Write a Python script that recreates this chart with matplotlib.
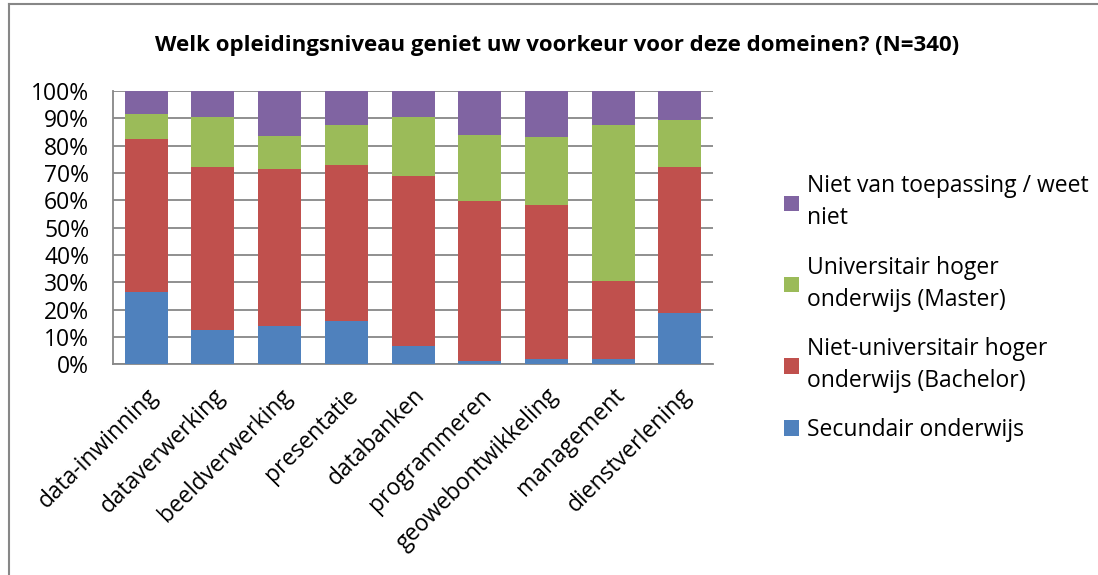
import matplotlib.pyplot as plt
import numpy as np
from matplotlib.lines import Line2D
from matplotlib.ticker import PercentFormatter

domeinen = ['data-inwinning', 'dataverwerking', 'beeldverwerking', 'presentatie',
            'databanken', 'programmeren', 'geowebontwikkeling', 'management',
            'dienstverlening']
secundair = [26.5, 12.7, 14.0, 15.9, 6.6, 1.3, 1.8, 2.0, 18.8]
bachelor = [55.8, 59.6, 57.5, 57.0, 62.4, 58.3, 56.4, 28.6, 53.5]
master = [9.3, 18.3, 12.2, 14.8, 21.4, 24.3, 25.0, 57.1, 17.1]
nvt = [8.4, 9.4, 16.3, 12.3, 9.6, 16.1, 16.8, 12.3, 10.6]

reeksen = [
    ('Secundair onderwijs', secundair, '#4F81BD'),
    ('Niet-universitair hoger\nonderwijs (Bachelor)', bachelor, '#C0504D'),
    ('Universitair hoger\nonderwijs (Master)', master, '#9BBB59'),
    ('Niet van toepassing / weet\nniet', nvt, '#8064A2'),
]

plt.rcParams['font.family'] = ['Open Sans', 'DejaVu Sans']

fig = plt.figure(figsize=(10.98, 5.75), dpi=100)
ax = fig.add_axes([0.1029, 0.3664, 0.5465, 0.4753])

x = np.arange(len(domeinen))
bottom = np.zeros(len(domeinen))
for naam, waarden, kleur in reeksen:
    ax.bar(x, waarden, 0.645, bottom=bottom, color=kleur, label=naam,
           edgecolor='none', zorder=3)
    bottom += np.array(waarden)

ax.set_xlim(-0.5, len(domeinen) - 0.5)
ax.set_ylim(0, 100)
ax.set_yticks(np.arange(0, 101, 10))
ax.yaxis.set_major_formatter(PercentFormatter(decimals=0))
ax.grid(axis='y', color='#878787', linewidth=1.3, zorder=0)
for s in ['top', 'right']:
    ax.spines[s].set_visible(False)
for s in ['left', 'bottom']:
    ax.spines[s].set_color('#878787')
    ax.spines[s].set_linewidth(1.3)
ax.tick_params(axis='y', length=0, labelsize=16.5, pad=17)
ax.tick_params(axis='x', length=0, labelsize=16.5, pad=14)
ax.set_xticks(x)
ax.set_xticklabels(domeinen, rotation=45, ha='right', va='top',
                   rotation_mode='anchor')

h, l = ax.get_legend_handles_labels()
leg = fig.legend(h[::-1], l[::-1], loc='center left',
                 bbox_to_anchor=(0.714, 0.464), frameon=False, fontsize=16.5,
                 handlelength=0.65, handleheight=0.65, handletextpad=0.35,
                 labelspacing=1.1, borderpad=0, borderaxespad=0)
for t in leg.get_texts():
    t.set_linespacing(1.45)

fig.suptitle('Welk opleidingsniveau geniet uw voorkeur voor deze domeinen? (N=340)',
             x=0.507, y=1 - 45 / 575, va='center', fontsize=16, fontweight='bold')

fig.add_artist(Line2D([8.5 / 1098, 1], [1 - 4 / 575, 1 - 4 / 575],
                      transform=fig.transFigure, color='#878787', linewidth=1.5))
fig.add_artist(Line2D([8.5 / 1098, 8.5 / 1098], [0, 1 - 4 / 575],
                      transform=fig.transFigure, color='#878787', linewidth=1.5))

fig.savefig('out.png', dpi=100)
